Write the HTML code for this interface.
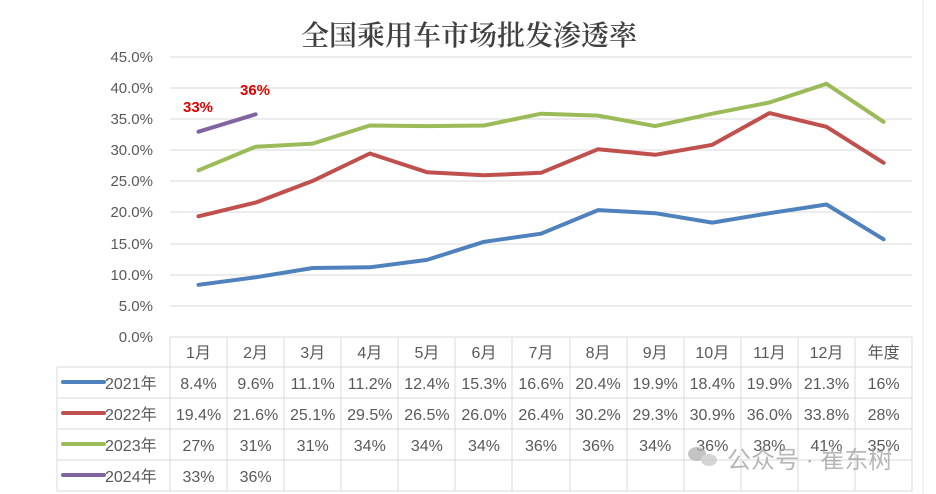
<!DOCTYPE html>
<html><head><meta charset="utf-8"><style>
body{margin:0;background:#fff}
svg{display:block}
text{font-family:"Liberation Sans","Noto Sans CJK SC",sans-serif;fill:#595959}
</style></head><body>
<svg width="936" height="494" viewBox="0 0 936 494" xmlns="http://www.w3.org/2000/svg">
<rect width="936" height="494" fill="#fff"/>
<line x1="923" y1="0" x2="923" y2="494" stroke="#e6e6e6"/>
<text x="469" y="45" text-anchor="middle" style="font-family:'Noto Serif CJK SC',serif;font-size:28px;fill:#404040;font-weight:600">全国乘用车市场批发渗透率</text>
<g stroke="#d9d9d9" stroke-width="1">
<line x1="170" y1="57" x2="912" y2="57"/><line x1="170" y1="88" x2="912" y2="88"/>
<line x1="170" y1="119" x2="912" y2="119"/><line x1="170" y1="150" x2="912" y2="150"/>
<line x1="170" y1="181" x2="912" y2="181"/><line x1="170" y1="212" x2="912" y2="212"/>
<line x1="170" y1="244" x2="912" y2="244"/><line x1="170" y1="275" x2="912" y2="275"/>
<line x1="170" y1="306" x2="912" y2="306"/><line x1="170" y1="337" x2="912" y2="337"/>
<line x1="57" y1="367" x2="912" y2="367"/><line x1="57" y1="398" x2="912" y2="398"/>
<line x1="57" y1="429" x2="912" y2="429"/><line x1="57" y1="460" x2="912" y2="460"/>
<line x1="57" y1="491" x2="912" y2="491"/>
<line x1="57" y1="367" x2="57" y2="491"/>
<line x1="170" y1="337" x2="170" y2="491"/><line x1="227" y1="337" x2="227" y2="491"/>
<line x1="284" y1="337" x2="284" y2="491"/><line x1="341" y1="337" x2="341" y2="491"/>
<line x1="398" y1="337" x2="398" y2="491"/><line x1="455" y1="337" x2="455" y2="491"/>
<line x1="512" y1="337" x2="512" y2="491"/><line x1="570" y1="337" x2="570" y2="491"/>
<line x1="627" y1="337" x2="627" y2="491"/><line x1="684" y1="337" x2="684" y2="491"/>
<line x1="741" y1="337" x2="741" y2="491"/><line x1="798" y1="337" x2="798" y2="491"/>
<line x1="855" y1="337" x2="855" y2="491"/><line x1="912" y1="337" x2="912" y2="491"/>
</g>
<g font-size="15" text-anchor="end">
<text x="153" y="62">45.0%</text><text x="153" y="93">40.0%</text><text x="153" y="124">35.0%</text>
<text x="153" y="155">30.0%</text><text x="153" y="186">25.0%</text><text x="153" y="217">20.0%</text>
<text x="153" y="249">15.0%</text><text x="153" y="280">10.0%</text><text x="153" y="311">5.0%</text>
<text x="153" y="342">0.0%</text>
</g>
<g fill="none" stroke-width="4" stroke-linejoin="round" stroke-linecap="round">
<polyline stroke="#4f81bd" points="198.5,284.8 255.6,277.3 312.7,268 369.8,267.3 426.9,259.9 484,241.8 541,233.7 598.1,210.1 655.2,213.2 712.3,222.6 769.4,213.2 826.5,204.5 883.6,239.3"/>
<polyline stroke="#c0504d" points="198.5,216.3 255.6,202.6 312.7,180.9 369.8,153.5 426.9,172.2 484,175.3 541,172.8 598.1,149.2 655.2,154.8 712.3,144.8 769.4,113.1 826.5,126.8 883.6,162.8"/>
<polyline stroke="#9bbb59" points="198.5,170.3 255.6,146.7 312.7,143.6 369.8,125.5 426.9,126.1 484,125.5 541,113.7 598.1,115.6 655.2,126.1 712.3,113.7 769.4,102.5 826.5,83.8 883.6,121.8"/>
<polyline stroke="#8064a2" points="198.5,131.7 255.6,114.3"/>
</g>
<text x="198" y="112" text-anchor="middle" font-size="15" font-weight="bold" style="fill:#e00000">33%</text>
<text x="255" y="95" text-anchor="middle" font-size="15" font-weight="bold" style="fill:#e00000">36%</text>
<g font-size="16" text-anchor="middle">
<text x="198.5" y="358">1月</text><text x="255.6" y="358">2月</text><text x="312.7" y="358">3月</text>
<text x="369.8" y="358">4月</text><text x="426.9" y="358">5月</text><text x="484" y="358">6月</text>
<text x="541" y="358">7月</text><text x="598.1" y="358">8月</text><text x="655.2" y="358">9月</text>
<text x="712.3" y="358">10月</text><text x="769.4" y="358">11月</text><text x="826.5" y="358">12月</text>
<text x="883.6" y="358">年度</text>
<text x="198.5" y="389">8.4%</text><text x="255.6" y="389">9.6%</text><text x="312.7" y="389">11.1%</text>
<text x="369.8" y="389">11.2%</text><text x="426.9" y="389">12.4%</text><text x="484" y="389">15.3%</text>
<text x="541" y="389">16.6%</text><text x="598.1" y="389">20.4%</text><text x="655.2" y="389">19.9%</text>
<text x="712.3" y="389">18.4%</text><text x="769.4" y="389">19.9%</text><text x="826.5" y="389">21.3%</text>
<text x="883.6" y="389">16%</text>
<text x="198.5" y="420">19.4%</text><text x="255.6" y="420">21.6%</text><text x="312.7" y="420">25.1%</text>
<text x="369.8" y="420">29.5%</text><text x="426.9" y="420">26.5%</text><text x="484" y="420">26.0%</text>
<text x="541" y="420">26.4%</text><text x="598.1" y="420">30.2%</text><text x="655.2" y="420">29.3%</text>
<text x="712.3" y="420">30.9%</text><text x="769.4" y="420">36.0%</text><text x="826.5" y="420">33.8%</text>
<text x="883.6" y="420">28%</text>
<text x="198.5" y="451">27%</text><text x="255.6" y="451">31%</text><text x="312.7" y="451">31%</text>
<text x="369.8" y="451">34%</text><text x="426.9" y="451">34%</text><text x="484" y="451">34%</text>
<text x="541" y="451">36%</text><text x="598.1" y="451">36%</text><text x="655.2" y="451">34%</text>
<text x="712.3" y="451">36%</text><text x="769.4" y="451">38%</text><text x="826.5" y="451">41%</text>
<text x="883.6" y="451">35%</text>
<text x="198.5" y="482">33%</text><text x="255.6" y="482">36%</text>
</g>
<g stroke-width="4" stroke-linecap="round">
<line x1="63" y1="382" x2="104" y2="382" stroke="#4f81bd"/>
<line x1="63" y1="413" x2="104" y2="413" stroke="#c0504d"/>
<line x1="63" y1="444" x2="104" y2="444" stroke="#9bbb59"/>
<line x1="63" y1="475" x2="104" y2="475" stroke="#8064a2"/>
</g>
<g font-size="16">
<text x="105" y="389">2021年</text><text x="105" y="420">2022年</text>
<text x="105" y="451">2023年</text><text x="105" y="482">2024年</text>
</g>
<g opacity="0.75">
<ellipse cx="697" cy="454" rx="9" ry="7" fill="#b0b0b0"/>
<ellipse cx="709" cy="460" rx="8" ry="6" fill="#c8c8c8"/>
<text x="727" y="468" font-size="24" style="fill:#a0a0a0">公众号 · 崔东树</text>
</g>
</svg>
</body></html>
